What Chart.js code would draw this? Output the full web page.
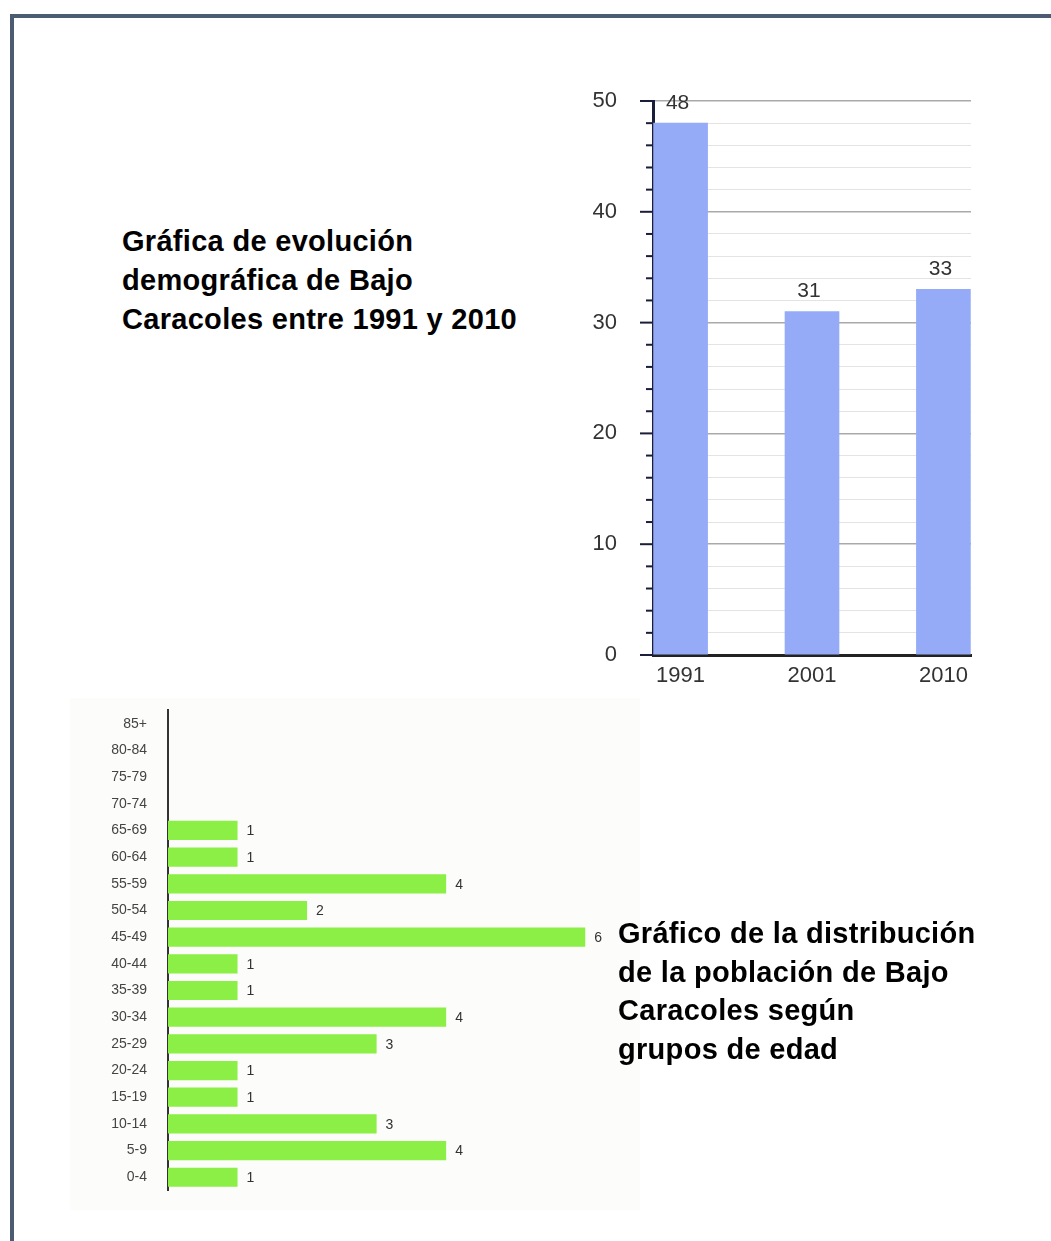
<!DOCTYPE html>
<html>
<head>
<meta charset="utf-8">
<script src="https://cdn.jsdelivr.net/npm/chart.js"></script>
<style>
  html, body { margin: 0; padding: 0; background: #fff; overflow: hidden; }
  body { width: 1051px; height: 1241px; position: relative; font-family: "Liberation Sans", Arial, sans-serif; }
  .frame { position: absolute; left: 10px; top: 14px; width: 1100px; height: 1300px;
           border-top: 4px solid #4b5b72; border-left: 4px solid #4b5b72; }
  .title { position: absolute; z-index: 2; font-weight: bold; font-size: 29px; line-height: 39px; color: #000; letter-spacing: 0.3px; white-space: nowrap; }
  #popWrap { position: absolute; left: 570px; top: 80px; }
  #ageWrap { position: absolute; left: 70px; top: 698px; width: 570px; height: 512px; background: #fcfcfa; }
</style>
</head>
<body>
<div class="frame"></div>
<div id="popWrap"><canvas id="popChart" width="411" height="615"></canvas></div>
<div id="ageWrap"><canvas id="ageChart" width="550" height="505"></canvas></div>
<div class="title" style="left:122px; top:222px;">Gráfica de evolución<br>demográfica de Bajo<br>Caracoles entre 1991 y 2010</div>
<div class="title" style="left:618px; top:914px; line-height:38.5px;">Gráfico de la distribución<br>de la población de Bajo<br>Caracoles según<br>grupos de edad</div>

<script>
const years = ['1991', '2001', '2010'];
const population = [48, 31, 33];

const ageGroups = ['85+', '80-84', '75-79', '70-74', '65-69', '60-64', '55-59', '50-54', '45-49',
                   '40-44', '35-39', '30-34', '25-29', '20-24', '15-19', '10-14', '5-9', '0-4'];
const ageCounts = [0, 0, 0, 0, 1, 1, 4, 2, 6, 1, 1, 4, 3, 1, 1, 3, 4, 1];

Chart.defaults.font.family = '"Liberation Sans", Arial, sans-serif';
Chart.defaults.color = '#333';

// tick marks on the left of the y axis: long at every 10, short at every 2
const yTickMarks = {
    id: 'yTickMarks',
    afterDraw(chart) {
        const ctx = chart.ctx;
        const y = chart.scales.y;
        const left = chart.chartArea.left;
        ctx.save();
        ctx.strokeStyle = '#1b1e3a';
        ctx.lineWidth = 2;
        for (let v = y.min; v <= y.max; v += 2) {
            const py = y.getPixelForValue(v);
            const len = v % 10 === 0 ? 13 : 7;
            ctx.beginPath();
            ctx.moveTo(left - len, py);
            ctx.lineTo(left, py);
            ctx.stroke();
        }
        ctx.restore();
    }
};

const popLabels = {
    id: 'popLabels',
    afterDatasetsDraw(chart) {
        const ctx = chart.ctx;
        const meta = chart.getDatasetMeta(0);
        ctx.save();
        ctx.font = '21px "Liberation Sans", Arial, sans-serif';
        ctx.fillStyle = '#333';
        ctx.textAlign = 'center';
        ctx.textBaseline = 'middle';
        meta.data.forEach((bar, i) => {
            ctx.fillText(population[i], bar.x - 3, bar.y - 20);
        });
        ctx.restore();
    }
};

new Chart(document.getElementById('popChart'), {
    type: 'bar',
    data: {
        datasets: [{
            data: years.map((y, i) => ({ x: i, y: population[i] })),
            backgroundColor: '#95abf8',
            barThickness: 54
        }]
    },
    options: {
        responsive: false,
        animation: false,
        layout: { padding: { top: 21, right: 10, left: 0, bottom: 0 } },
        plugins: { legend: { display: false }, tooltip: { enabled: false } },
        scales: {
            x: {
                type: 'linear',
                offset: false,
                min: -0.21,
                max: 2.21,
                afterBuildTicks: (scale) => { scale.ticks = years.map((y, i) => ({ value: i })); },
                afterFit: (scale) => { scale.height = 40; },
                grid: { display: false },
                border: { color: '#222', width: 3 },
                ticks: {
                    callback: (v) => years[Math.round(v)],
                    font: { size: 22 },
                    color: '#333',
                    padding: 0,
                    maxRotation: 0
                }
            },
            y: {
                min: 0,
                max: 50,
                afterFit: (scale) => { scale.width = 83; },
                grid: {
                    drawTicks: true,
                    tickLength: 32,
                    tickColor: 'rgba(0,0,0,0)',
                    color: (c) => c.tick && c.tick.value % 10 === 0 ? '#a9a9a9' : '#e3e3e3',
                    lineWidth: (c) => c.tick && c.tick.value % 10 === 0 ? 1.6 : 1
                },
                border: { color: '#1b1e3a', width: 3 },
                ticks: {
                    stepSize: 2,
                    autoSkip: false,
                    padding: 4,
                    font: { size: 22 },
                    color: '#333',
                    callback: (v) => v % 10 === 0 ? v : ''
                }
            }
        }
    },
    plugins: [yTickMarks, popLabels]
});

const ageLabels = {
    id: 'ageLabels',
    afterDatasetsDraw(chart) {
        const ctx = chart.ctx;
        const meta = chart.getDatasetMeta(0);
        ctx.save();
        ctx.font = '14px "Liberation Sans", Arial, sans-serif';
        ctx.fillStyle = '#333';
        ctx.textAlign = 'left';
        ctx.textBaseline = 'middle';
        meta.data.forEach((bar, i) => {
            if (ageCounts[i] > 0) ctx.fillText(ageCounts[i], bar.x + 9, bar.y + 1);
        });
        ctx.restore();
    }
};

new Chart(document.getElementById('ageChart'), {
    type: 'bar',
    data: {
        labels: ageGroups,
        datasets: [{
            data: ageCounts,
            backgroundColor: '#8cef46',
            barPercentage: 0.72,
            categoryPercentage: 1
        }]
    },
    options: {
        indexAxis: 'y',
        responsive: false,
        animation: false,
        layout: { padding: { top: 11, bottom: 9, right: 0, left: 0 } },
        plugins: { legend: { display: false }, tooltip: { enabled: false } },
        scales: {
            x: { display: false, min: 0, max: 6.5 },
            y: {
                afterFit: (scale) => { scale.width = 98; },
                grid: { display: false, drawTicks: true, tickLength: 17, tickColor: 'rgba(0,0,0,0)' },
                border: { color: '#333', width: 2 },
                ticks: { font: { size: 14 }, color: '#444', padding: 4, autoSkip: false }
            }
        }
    },
    plugins: [ageLabels]
});
</script>
</body>
</html>
